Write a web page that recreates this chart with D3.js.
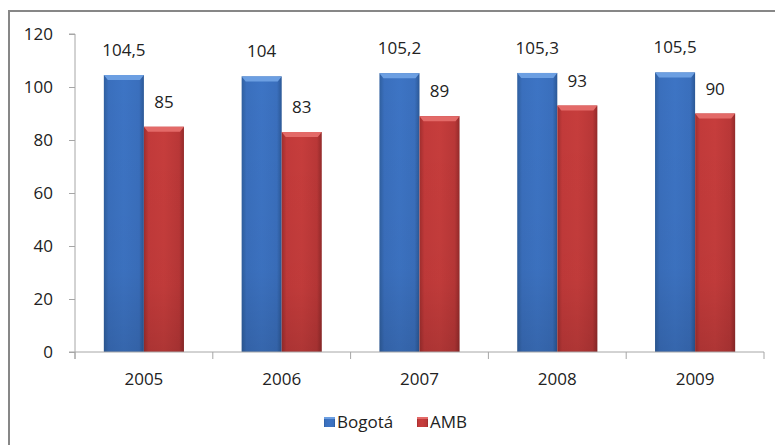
<!DOCTYPE html>
<html><head><meta charset="utf-8">
<script src="https://cdn.jsdelivr.net/npm/d3@7"></script>
<style>body{margin:0;background:#fff;}svg{display:block;} svg text{font-family:"Open Sans","Noto Sans",sans-serif;}</style>
</head><body><svg id="c" width="775" height="445"></svg>
<script>
const years = ["2005","2006","2007","2008","2009"];
const seriesNames = ["Bogotá","AMB"];
const bogota = [104.5,104,105.2,105.3,105.5];
const amb = [85,83,89,93,90];
const bogotaLabels = ["104,5","104","105,2","105,3","105,5"];
const ambLabels = ["85","83","89","93","90"];
const yTicks = [0,20,40,60,80,100,120];

(function(){
const FS = "17px", FF = '"Open Sans","Noto Sans",sans-serif';
const svg = d3.select("#c");
const defs = svg.append("defs");
function grad(id, stops){
  const g = defs.append("linearGradient").attr("id",id).attr("x1","0").attr("x2","1").attr("y1","0").attr("y2","0");
  stops.forEach(s=>g.append("stop").attr("offset",s[0]).attr("stop-color",s[1]));
}
grad("gb",[[0,"#2f5f9f"],[0.12,"#3a6fbd"],[0.5,"#3d74c4"],[0.88,"#3a6fbd"],[1,"#2b5896"]]);
grad("gr",[[0,"#a02e2e"],[0.12,"#c23a3a"],[0.5,"#c63d3c"],[0.88,"#b93737"],[1,"#932a2a"]]);
const gv = defs.append("linearGradient").attr("id","gv").attr("x1","0").attr("x2","0").attr("y1","0").attr("y2","1");
gv.append("stop").attr("offset",0).attr("stop-color","#000").attr("stop-opacity",0);
gv.append("stop").attr("offset",0.7).attr("stop-color","#000").attr("stop-opacity",0.03);
gv.append("stop").attr("offset",1).attr("stop-color","#000").attr("stop-opacity",0.12);

svg.append("rect").attr("x",9).attr("y",11).attr("width",800).attr("height",500)
  .attr("fill","none").attr("stroke","#878787").attr("stroke-width",2);

const pl=75, pr=764, pt=34, pb=352;
const y = d3.scaleLinear().domain([0,120]).range([pb,pt]);
const x0 = d3.scaleBand().domain(years).range([pl,pr]).paddingInner(0).paddingOuter(0);
const x1 = d3.scaleBand().domain(seriesNames).range([0,x0.bandwidth()]).paddingOuter(0.72).paddingInner(0);

const yAxis = d3.axisLeft(y).tickValues(yTicks).tickSize(6).tickPadding(16).tickFormat(d3.format("d"));
const ya = svg.append("g").attr("transform",`translate(${pl},0)`).call(yAxis).attr("font-family",FF);
ya.select(".domain").attr("stroke","#a6a6a6").attr("d",`M-6,${pt}H0V${pb+7}`);
ya.selectAll(".tick line").attr("stroke","#a6a6a6");
ya.selectAll(".tick text").attr("fill","#222").attr("font-size",FS);

const data = years.map((yr,i)=>({yr, vals:[{s:"Bogotá",v:bogota[i],l:bogotaLabels[i]},{s:"AMB",v:amb[i],l:ambLabels[i]}]}));
const groups = svg.append("g").selectAll("g").data(data).join("g")
  .attr("transform",d=>`translate(${x0(d.yr)},0)`);
groups.each(function(d){
  const g = d3.select(this);
  d.vals.forEach(e=>{
    const bx = x1(e.s), bw = x1.bandwidth(), by = y(e.v), bh = y(0)-y(e.v);
    const isB = e.s==="Bogotá";
    g.append("rect").attr("x",bx).attr("y",by).attr("width",bw).attr("height",bh)
      .attr("fill",isB?"url(#gb)":"url(#gr)");
    g.append("rect").attr("x",bx).attr("y",by).attr("width",bw).attr("height",bh)
      .attr("fill","url(#gv)");
    g.append("path").attr("d",`M${bx},${by}H${bx+bw}L${bx+bw-4},${by+5}H${bx+4}Z`)
      .attr("fill",isB?"#6c9fe2":"#e36a68");
    g.append("text").attr("x",bx+bw/2).attr("y",by-19).attr("text-anchor","middle")
      .attr("font-size",FS).attr("fill","#222").text(e.l);
  });
});

const xAxis = d3.axisBottom(x0).tickSize(0).tickPadding(21);
const xa = svg.append("g").attr("transform",`translate(0,${pb})`).call(xAxis).attr("font-family",FF);
xa.select(".domain").attr("stroke","#a6a6a6").attr("d",`M${pl-6},0H${pr}V7`);
xa.selectAll(".tick text").attr("fill","#222").attr("font-size",FS);
xa.selectAll(".bt").data(years).join("line").attr("class","bt")
  .attr("x1",d=>x0(d)).attr("x2",d=>x0(d)).attr("y1",0).attr("y2",7).attr("stroke","#a6a6a6");

const leg = svg.append("g").attr("transform","translate(324,422)");
const legItems = [{n:seriesNames[0],c:"url(#gb)",t:"#6c9fe2",x:0},{n:seriesNames[1],c:"url(#gr)",t:"#e36a68",x:93}];
legItems.forEach(it=>{
  leg.append("rect").attr("x",it.x).attr("y",-5).attr("width",11).attr("height",10).attr("fill",it.c);
  leg.append("rect").attr("x",it.x).attr("y",-5).attr("width",11).attr("height",2).attr("fill",it.t);
  leg.append("text").attr("x",it.x+13).attr("y",6).attr("font-size",FS).attr("fill","#222").text(it.n);
});
})();
</script></body></html>
